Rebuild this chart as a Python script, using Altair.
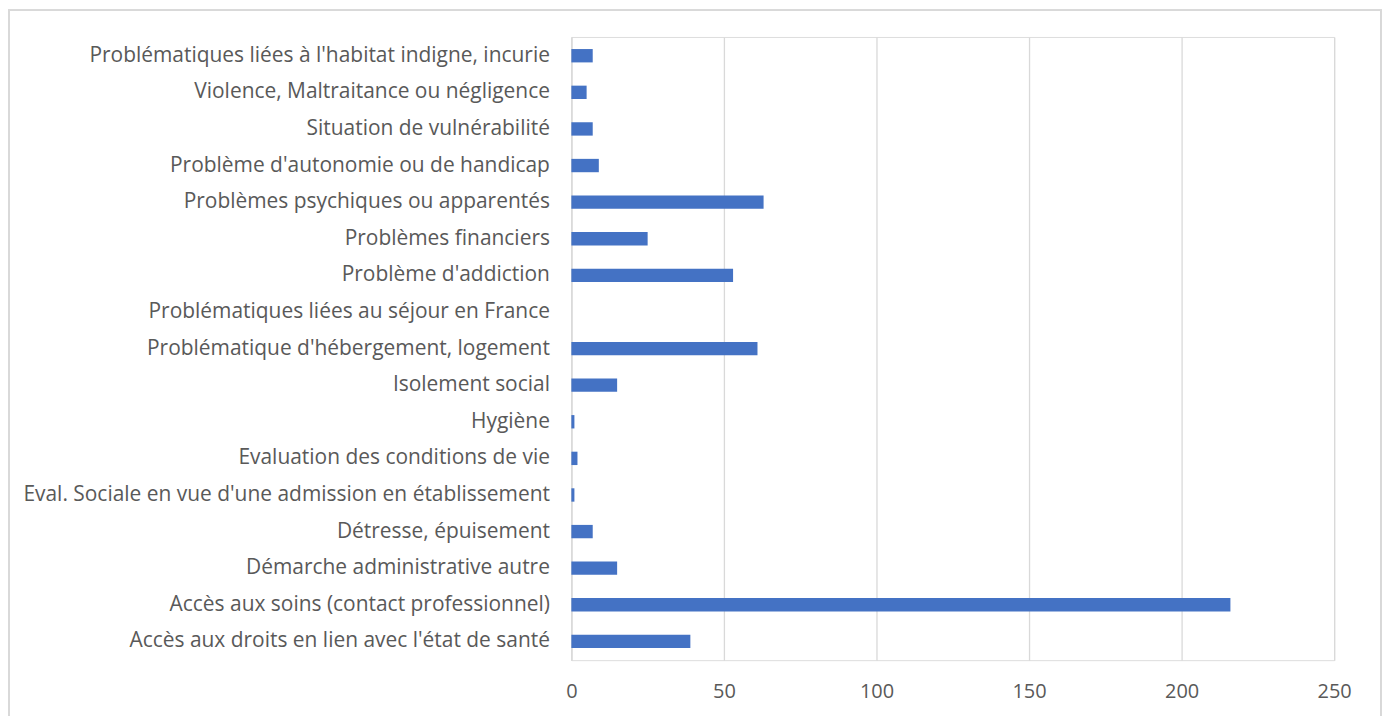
import altair as alt
import pandas as pd

categories = [
    "Problématiques liées à l'habitat indigne, incurie",
    "Violence, Maltraitance ou négligence ",
    "Situation de vulnérabilité",
    "Problème d'autonomie ou de handicap",
    "Problèmes psychiques ou apparentés",
    "Problèmes financiers",
    "Problème d'addiction",
    "Problématiques liées au séjour en France",
    "Problématique d'hébergement, logement",
    "Isolement social",
    "Hygiène",
    "Evaluation des conditions de vie ",
    "Eval. Sociale en vue d'une admission en établissement",
    "Détresse, épuisement",
    "Démarche administrative autre",
    "Accès aux soins (contact professionnel)",
    "Accès aux droits en lien avec l'état de santé",
]
values = [7, 5, 7, 9, 63, 25, 53, 0, 61, 15, 1, 2, 1, 7, 15, 216, 39]
x_ticks = [0, 50, 100, 150, 200, 250]

df = pd.DataFrame({"cat": categories, "val": values})

FONT = "Open Sans"
GREY = "#595959"

bars = alt.Chart(df).mark_bar(color="#4472C4").encode(
    x=alt.X("val:Q",
            scale=alt.Scale(domain=[0, 250], nice=False, zero=True),
            axis=alt.Axis(values=x_ticks, title=None, grid=True, gridColor="#d9d9d9",
                          gridWidth=1.3, domain=False, ticks=False, labelFlush=False,
                          labelFont=FONT, labelFontSize=20, labelColor=GREY,
                          labelPadding=21)),
    y=alt.Y("cat:N", sort=categories,
            scale=alt.Scale(paddingInner=0.635, paddingOuter=0.33),
            axis=alt.Axis(title=None, ticks=False, domain=True, domainColor="#d9d9d9",
                          domainWidth=1.3, labelFont=FONT, labelFontSize=21,
                          labelColor=GREY, labelPadding=22, labelLimit=0)),
)

border = alt.Chart(df).mark_rect(fill=None, stroke="#d9d9d9", strokeWidth=1.3).encode(
    x=alt.value(-564), x2=alt.value(812), y=alt.value(-27), y2=alt.value(730)
)

chart = alt.layer(border, bars).properties(
    width=765, height=625,
    autosize=alt.AutoSizeParams(type="none"),
    padding={"left": 565, "top": 28, "right": 50, "bottom": 70},
).configure_view(stroke=None).configure(background="white")

chart.save("out.html", embed_options={"renderer": "svg", "actions": False})
